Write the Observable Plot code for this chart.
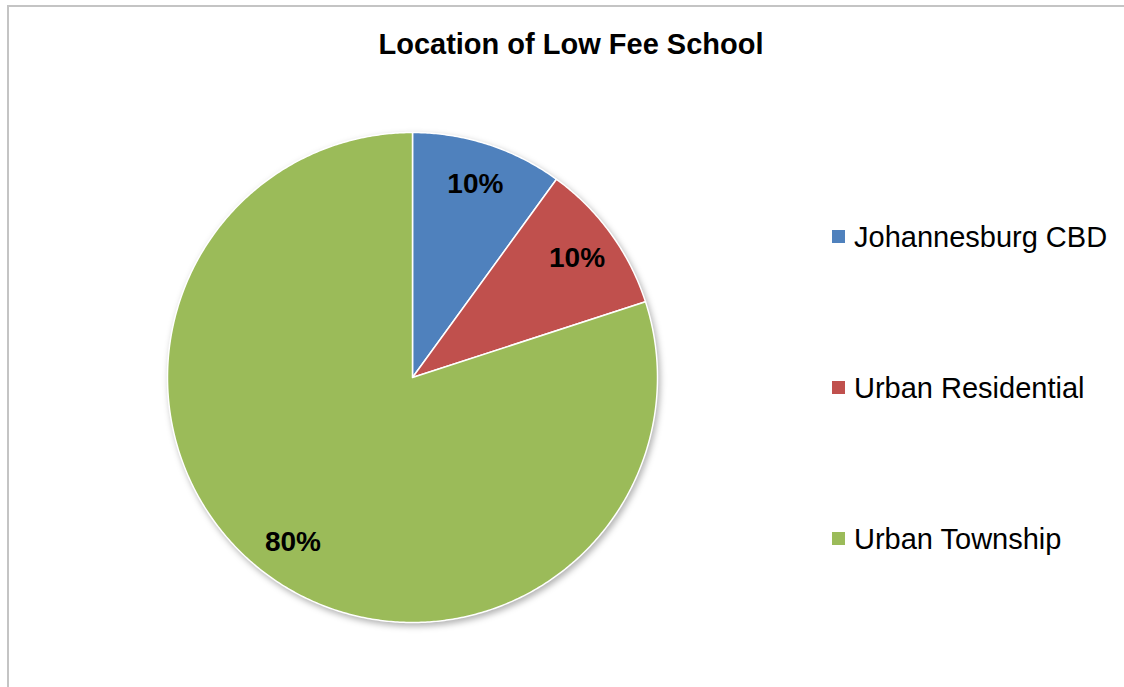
<!DOCTYPE html>
<html>
<head>
<meta charset="utf-8">
<script src="https://cdn.jsdelivr.net/npm/d3@7"></script>
<script src="https://cdn.jsdelivr.net/npm/@observablehq/plot@0.6"></script>
<style>
  html, body { margin: 0; padding: 0; background: #fff; overflow: hidden; }
  body { font-family: "Liberation Sans", Arial, sans-serif; }
  #wrap { position: relative; width: 1124px; height: 687px; overflow: hidden; background: #fff; }
  #hline { position: absolute; left: 7px; top: 5px; width: 1117px; height: 2px; background: #c4c4c4; }
  #vline { position: absolute; left: 7px; top: 5px; width: 2px; height: 682px; background: #c4c4c4; }
  #chart { position: absolute; left: 0; top: 0; }
  #title { position: absolute; left: 0; width: 1142px; top: 30px; text-align: center; font-weight: bold; font-size: 29px; line-height: 29px; color: #000; white-space: nowrap; }
  #legend { position: absolute; left: 832px; top: 0; }
  .item { position: absolute; left: 0; height: 30px; white-space: nowrap; font-size: 29px; line-height: 30px; color: #000; }
  .sw { position: absolute; left: 0; top: 8px; width: 13px; height: 13px; }
  .lab { position: absolute; left: 22px; top: 0; }
  #chart g[aria-label="line"] { filter: drop-shadow(2px 3px 3px rgba(0,0,0,0.3)); }
</style>
</head>
<body>
<div id="wrap">
  <div id="hline"></div>
  <div id="vline"></div>
  <div id="chart"></div>
  <div id="title"></div>
  <div id="legend"></div>
</div>
<script>
const title = "Location of Low Fee School";
const categories = ["Johannesburg CBD", "Urban Residential", "Urban Township"];
const values = [10, 10, 80];
const labels = ["10%", "10%", "80%"];
const colors = ["#4F81BD", "#C0504D", "#9BBB59"];

const data = categories.map((c, i) => ({cat: c, value: values[i], label: labels[i]}));
const arcs = d3.pie().sort(null).value(d => d.value).startAngle(0).endAngle(2 * Math.PI)(data);

// polygon outlines of the slices on a unit circle
const pts = [];
arcs.forEach(a => {
  const n = Math.max(2, Math.ceil((a.endAngle - a.startAngle) / (Math.PI / 360)));
  pts.push({cat: a.data.cat, x: 0, y: 0});
  for (let k = 0; k <= n; k++) {
    const t = a.startAngle + (a.endAngle - a.startAngle) * k / n;
    pts.push({cat: a.data.cat, x: Math.sin(t), y: Math.cos(t)});
  }
  pts.push({cat: a.data.cat, x: 0, y: 0});
});

const labelR = 0.83;
const labelPts = arcs.map(a => {
  const m = (a.startAngle + a.endAngle) / 2;
  return {x: labelR * Math.sin(m), y: labelR * Math.cos(m), text: a.data.label};
});

const plot = Plot.plot({
  width: 1124,
  height: 687,
  margin: 0,
  style: {background: "transparent", overflow: "visible"},
  x: {domain: [-1, 1], range: [167, 657], axis: null},
  y: {domain: [-1, 1], range: [622, 132], axis: null},
  color: {domain: categories, range: colors},
  marks: [
    Plot.line(pts, {x: "x", y: "y", z: "cat", fill: "cat", stroke: "white", strokeWidth: 1.5, curve: "linear", strokeLinejoin: "round"}),
    Plot.text(labelPts, {x: "x", y: "y", text: "text", fontSize: 28, fontWeight: "bold", fill: "black", fontFamily: "Liberation Sans, Arial, sans-serif"})
  ]
});
document.getElementById("chart").appendChild(plot);
document.getElementById("title").textContent = title;

const leg = document.getElementById("legend");
categories.forEach((c, i) => {
  const item = document.createElement("div");
  item.className = "item";
  item.style.top = (222 + i * 151) + "px";
  const sw = document.createElement("div");
  sw.className = "sw";
  sw.style.background = colors[i];
  const lab = document.createElement("div");
  lab.className = "lab";
  lab.textContent = c;
  item.appendChild(sw);
  item.appendChild(lab);
  leg.appendChild(item);
});
</script>
</body>
</html>
